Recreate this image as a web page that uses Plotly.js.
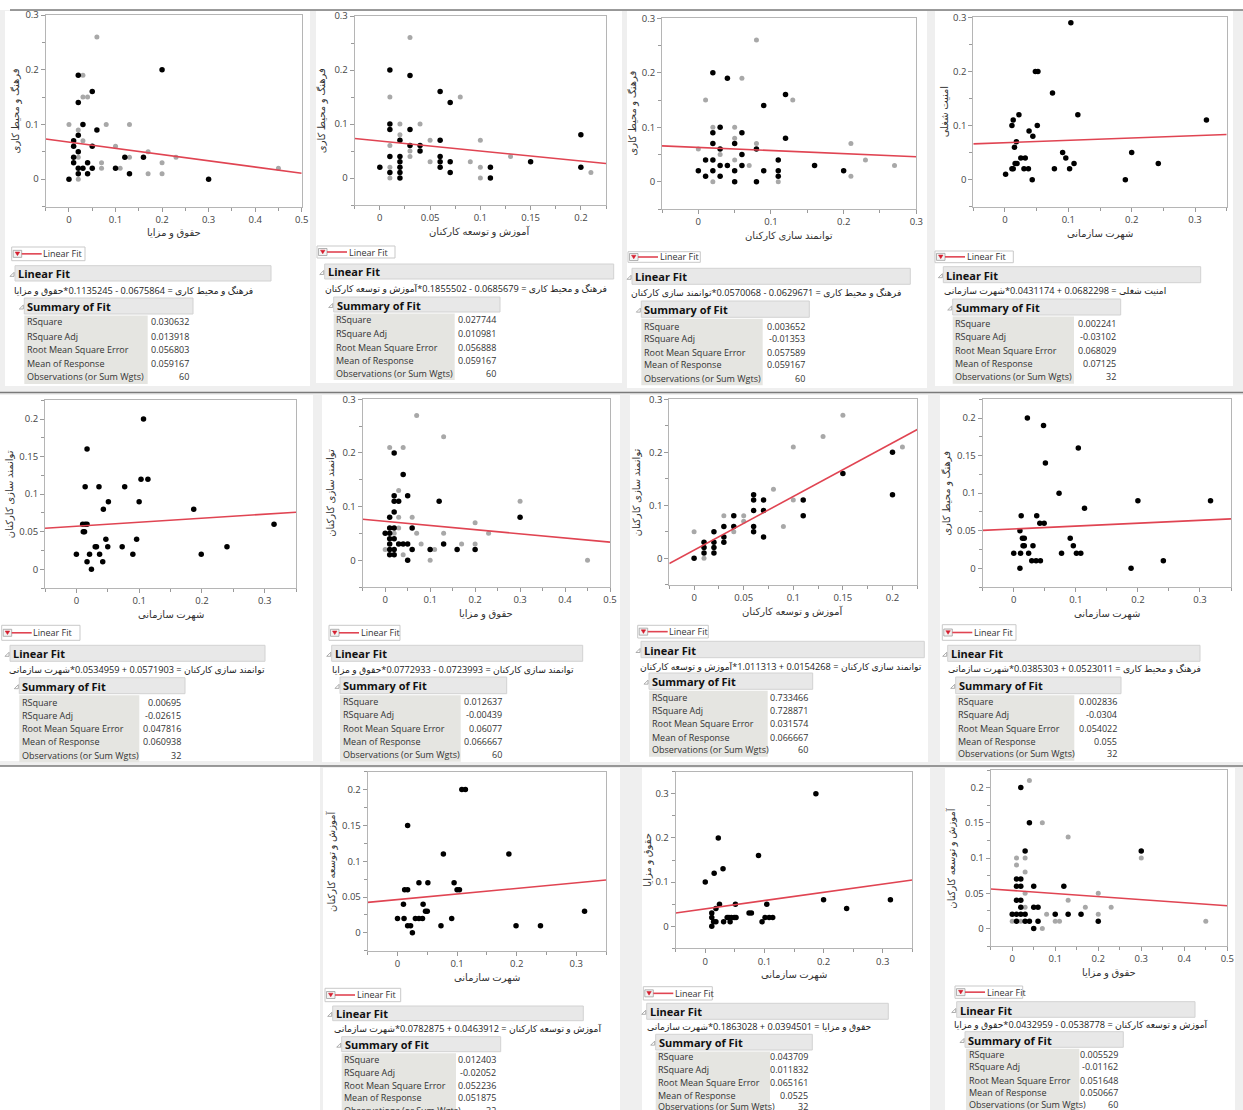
<!DOCTYPE html>
<html>
<head>
<meta charset="utf-8">
<script src="https://cdn.plot.ly/plotly-3.0.1.min.js"></script>
<style>html,body{margin:0;padding:0;background:#fff;}#chart{width:1243px;height:1110px;}</style>
</head>
<body>
<div id="chart"></div>
<script>
// ---------------- DATA ----------------
const yNames = ['فرهنگ و محیط کاری','فرهنگ و محیط کاری','فرهنگ و محیط کاری','امنیت شغلی','توانمند سازی کارکنان','توانمند سازی کارکنان','توانمند سازی کارکنان','فرهنگ و محیط کاری','آموزش و توسعه کارکنان','حقوق و مزایا','آموزش و توسعه کارکنان'];
const xNames = ['حقوق و مزایا','آموزش و توسعه کارکنان','توانمند سازی کارکنان','شهرت سازمانی','شهرت سازمانی','حقوق و مزایا','آموزش و توسعه کارکنان','شهرت سازمانی','شهرت سازمانی','شهرت سازمانی','حقوق و مزایا'];
const intercepts = [0.0675864,0.0685679,0.0629671,0.0682298,0.0571903,0.0723993,0.0154268,0.0523011,0.0463912,0.0394501,0.0538778];
const slopes = [-0.1135245,-0.1855502,-0.0570068,0.0431174,0.0534959,-0.0772933,1.011313,0.0385303,0.0782875,0.1863028,-0.0432959];
const statLabels = ['RSquare','RSquare Adj','Root Mean Square Error','Mean of Response','Observations (or Sum Wgts)'];
const rSquare = ['0.030632','0.027744','0.003652','0.002241','0.00695','0.012637','0.733466','0.002836','0.012403','0.043709','0.005529'];
const rSquareAdj = ['0.013918','0.010981','-0.01353','-0.03102','-0.02615','-0.00439','0.728871','-0.0304','-0.02052','0.011832','-0.01162'];
const rmse = ['0.056803','0.056888','0.057589','0.068029','0.047816','0.06077','0.031574','0.054022','0.052236','0.065161','0.051648'];
const meanResp = ['0.059167','0.059167','0.059167','0.07125','0.060938','0.066667','0.066667','0.055','0.051875','0.0525','0.050667'];
const nObs = ['60','60','60','32','32','60','60','32','32','32','60'];

const p1Black = [[0.02,0.19],[0.2,0.2],[0.05,0.16],[0.02,0.14],[0.03,0.1],[0.06,0.09],[0.02,0.08],[0.01,0.07],[0.01,0.06],[0.05,0.06],[0.02,0.05],[0.01,0.04],[0.12,0.04],[0.16,0.04],[0.01,0.03],[0.04,0.03],[0.02,0.02],[0.03,0.02],[0.05,0.02],[0.1,0.02],[0.02,0.01],[0.04,0.01],[0.13,0.01],[0,0],[0.3,0]];
const p1Gray = [[0.06,0.26],[0.03,0.19],[0.03,0.15],[0.04,0.15],[0,0.1],[0.02,0.09],[0.08,0.1],[0.13,0.1],[0.03,0.07],[0.02,0.04],[0.1,0.06],[0.17,0.05],[0.23,0.04],[0.13,0.04],[0.07,0.03],[0.07,0.02],[0.11,0.02],[0.2,0.03],[0.17,0.01],[0.2,0.01],[0.45,0.02],[0.02,0]];
const p2Black = [[0.01,0.2],[0.03,0.19],[0.06,0.16],[0.07,0.14],[0.01,0.1],[0.01,0.09],[0.03,0.09],[0.02,0.07],[0.06,0.07],[0.03,0.06],[0.04,0.06],[0.04,0.05],[0.01,0.04],[0.02,0.04],[0.06,0.04],[0.02,0.03],[0.06,0.03],[0.07,0.03],[0.15,0.03],[0,0.02],[0.02,0.02],[0.06,0.02],[0.11,0.02],[0.2,0.02],[0.01,0.01],[0.02,0.01],[0.07,0.01],[0.02,0],[0.11,0],[0.2,0.08]];
const p2Gray = [[0.03,0.26],[0.01,0.15],[0.08,0.15],[0.02,0.1],[0.04,0.1],[0.02,0.08],[0.01,0.06],[0.03,0.05],[0.03,0.04],[0.05,0.07],[0.1,0.07],[0.05,0.03],[0.09,0.03],[0.13,0.04],[0.1,0.02],[0.01,0.02],[0.01,0],[0.1,0],[0.21,0.01]];
const p3Black = [[0.02,0.2],[0.04,0.19],[0.12,0.16],[0.09,0.14],[0.03,0.1],[0.02,0.09],[0.06,0.09],[0.12,0.08],[0.02,0.07],[0.05,0.07],[0.03,0.06],[0.08,0.06],[0.06,0.05],[0.01,0.04],[0.02,0.04],[0.11,0.04],[0.03,0.03],[0.04,0.03],[0.06,0.03],[0.16,0.03],[0,0.02],[0.02,0.02],[0.05,0.02],[0.09,0.02],[0.11,0.02],[0.2,0.02],[0.01,0.01],[0.03,0.01],[0.11,0.01],[0.05,0],[0.08,0]];
const p3Gray = [[0.08,0.26],[0.06,0.19],[0.01,0.15],[0.13,0.15],[0.02,0.1],[0.05,0.1],[0.05,0.08],[0.08,0.07],[0.21,0.07],[0,0.06],[0.03,0.05],[0.05,0.04],[0.23,0.04],[0.07,0.03],[0.27,0.03],[0.21,0.01],[0.02,0],[0.11,0]];
const p4Black = [[0.104,0.29],[0.048,0.2],[0.052,0.2],[0.075,0.16],[0.022,0.12],[0.115,0.12],[0.013,0.11],[0.318,0.11],[0.011,0.1],[0.051,0.1],[0.038,0.09],[0.044,0.08],[0.018,0.07],[0.015,0.06],[0.091,0.05],[0.2,0.05],[0.025,0.04],[0.032,0.04],[0.096,0.04],[0.016,0.03],[0.019,0.03],[0.109,0.03],[0.242,0.03],[0.011,0.02],[0.013,0.02],[0.03,0.02],[0.037,0.02],[0.078,0.02],[0.102,0.02],[0.001,0.01],[0.043,0],[0.19,0]];
const p4Gray = [];
const p5Black = [[0.107,0.2],[0.017,0.16],[0.014,0.11],[0.036,0.11],[0.077,0.11],[0.103,0.12],[0.114,0.12],[0.051,0.09],[0.1,0.09],[0.043,0.08],[0.187,0.08],[0.01,0.06],[0.014,0.06],[0.017,0.06],[0.315,0.06],[0.011,0.05],[0.013,0.05],[0.047,0.04],[0.096,0.04],[0.03,0.03],[0.032,0.03],[0.05,0.03],[0.073,0.03],[0.24,0.03],[0,0.02],[0.021,0.02],[0.037,0.02],[0.09,0.02],[0.199,0.02],[0.017,0.01],[0.042,0.01],[0.024,0]];
const p5Gray = [];
const p6Black = [[0.02,0.2],[0.04,0.16],[0.02,0.12],[0.05,0.12],[0.02,0.11],[0.03,0.11],[0.12,0.11],[0.02,0.09],[0.01,0.08],[0.3,0.08],[0.01,0.06],[0.02,0.06],[0.06,0.06],[0,0.05],[0.01,0.05],[0.01,0.04],[0.02,0.04],[0.01,0.03],[0.03,0.03],[0.04,0.03],[0.05,0.03],[0.13,0.03],[0.01,0.02],[0.02,0.02],[0.06,0.02],[0.1,0.02],[0.16,0.02],[0.2,0.02],[0.01,0.01],[0.02,0.01],[0.05,0]];
const p6Gray = [[0.07,0.27],[0.13,0.23],[0.01,0.21],[0.04,0.21],[0.03,0.13],[0.3,0.11],[0.03,0.08],[0.06,0.08],[0.2,0.07],[0.03,0.06],[0.02,0.05],[0.07,0.05],[0.13,0.05],[0.23,0.05],[0.08,0.03],[0.17,0.03],[0.2,0.03],[0,0.02],[0.11,0.02],[0.04,0.01],[0.1,0],[0.45,0]];
const p7Black = [[0.2,0.2],[0.15,0.16],[0.2,0.12],[0.06,0.12],[0.06,0.11],[0.07,0.11],[0.11,0.11],[0.06,0.09],[0.07,0.09],[0.04,0.08],[0.11,0.08],[0.03,0.06],[0.04,0.06],[0.06,0.06],[0.02,0.05],[0.06,0.05],[0.03,0.04],[0.07,0.04],[0.01,0.03],[0.02,0.03],[0.03,0.03],[0.01,0.02],[0.02,0.02],[0.01,0.01],[0.02,0.01],[0,0]];
const p7Gray = [[0.15,0.27],[0.13,0.23],[0.1,0.21],[0.21,0.21],[0.08,0.13],[0.1,0.11],[0.03,0.08],[0.05,0.08],[0.05,0.07],[0.09,0.06],[0,0.05],[0.04,0.05],[0.01,0]];
const p8Black = [[0.022,0.2],[0.048,0.19],[0.104,0.16],[0.051,0.14],[0.073,0.1],[0.2,0.09],[0.317,0.09],[0.114,0.08],[0.012,0.07],[0.037,0.07],[0.042,0.06],[0.049,0.06],[0.01,0.05],[0.014,0.04],[0.017,0.04],[0.091,0.04],[0.015,0.03],[0.017,0.03],[0.031,0.03],[0.096,0.03],[0,0.02],[0.011,0.02],[0.024,0.02],[0.077,0.02],[0.101,0.02],[0.108,0.02],[0.029,0.01],[0.036,0.01],[0.043,0.01],[0.241,0.01],[0.01,0],[0.189,0]];
const p8Gray = [];
const p9Black = [[0.108,0.2],[0.114,0.2],[0.017,0.15],[0.077,0.11],[0.187,0.11],[0.036,0.07],[0.051,0.07],[0.095,0.07],[0.012,0.06],[0.017,0.06],[0.1,0.06],[0.104,0.06],[0.01,0.04],[0.043,0.04],[0.047,0.03],[0.05,0.03],[0.314,0.03],[0,0.02],[0.011,0.02],[0.03,0.02],[0.036,0.02],[0.042,0.02],[0.091,0.02],[0.017,0.01],[0.022,0.01],[0.073,0.01],[0.199,0.01],[0.24,0.01],[0.025,0]];
const p9Gray = [];
const p10Black = [[0.187,0.3],[0.022,0.2],[0.09,0.16],[0.03,0.13],[0.015,0.12],[0,0.1],[0.2,0.06],[0.313,0.06],[0.024,0.05],[0.051,0.05],[0.104,0.05],[0.239,0.04],[0.018,0.04],[0.011,0.03],[0.074,0.03],[0.078,0.03],[0.011,0.02],[0.037,0.02],[0.04,0.02],[0.044,0.02],[0.049,0.02],[0.052,0.02],[0.101,0.02],[0.108,0.02],[0.114,0.02],[0.014,0.01],[0.018,0.01],[0.031,0.01],[0.042,0.01],[0.096,0.01],[0.011,0]];
const p10Gray = [];
const p11Black = [[0.02,0.2],[0.04,0.15],[0.03,0.11],[0.3,0.11],[0.01,0.07],[0.02,0.07],[0.01,0.06],[0.02,0.06],[0.05,0.06],[0.12,0.06],[0.01,0.04],[0.02,0.04],[0.02,0.03],[0.05,0.03],[0.06,0.03],[0,0.02],[0.01,0.02],[0.02,0.02],[0.03,0.02],[0.1,0.02],[0.13,0.02],[0.16,0.02],[0.01,0.01],[0.03,0.01],[0.04,0.01],[0.06,0.01],[0.2,0.01],[0.05,0]];
const p11Gray = [[0.04,0.21],[0.07,0.15],[0.13,0.13],[0.01,0.1],[0.03,0.1],[0.3,0.1],[0.01,0.09],[0.03,0.08],[0.03,0.05],[0.2,0.05],[0.13,0.04],[0.03,0.03],[0.17,0.03],[0.23,0.03],[0.08,0.02],[0.2,0.02],[0,0.01],[0.02,0.01],[0.1,0.01],[0.11,0.01],[0.45,0.01],[0.07,0]];

const blackSets = [p1Black,p2Black,p3Black,p4Black,p5Black,p6Black,p7Black,p8Black,p9Black,p10Black,p11Black];
const graySets = [p1Gray,p2Gray,p3Gray,p4Gray,p5Gray,p6Gray,p7Gray,p8Gray,p9Gray,p10Gray,p11Gray];

// ---------------- LAYOUT (pixels) ----------------
const W = 1243, H = 1110;
const px = x => x / W;
const py = y => 1 - y / H;

const boxes = [
  {b:[45.7,15,301.7,206.5], xr:[-0.05,0.5], yr:[-0.05,0.3], xd:0.1, yd:0.1, yo:31},
  {b:[354.7,16,606,205], xr:[-0.025,0.225], yr:[-0.05,0.3], xd:0.05, yd:0.1, yo:33},
  {b:[662,18.3,916.3,209], xr:[-0.05,0.3], yr:[-0.05,0.3], xd:0.1, yd:0.1, yo:30},
  {b:[973.3,17.3,1226.7,206.7], xr:[-0.05,0.35], yr:[-0.05,0.3], xd:0.1, yd:0.1, yo:29},
  {b:[45,400.3,296,588], xr:[-0.05,0.35], yr:[-0.025,0.225], xd:0.1, yd:0.05, yo:36},
  {b:[362.7,399.3,610,587], xr:[-0.05,0.5], yr:[-0.05,0.3], xd:0.1, yd:0.1, yo:33},
  {b:[669.3,399.3,917.3,584.7], xr:[-0.025,0.225], yr:[-0.05,0.3], xd:0.05, yd:0.1, yo:33},
  {b:[982.7,399.3,1231,587], xr:[-0.05,0.35], yr:[-0.025,0.225], xd:0.1, yd:0.05, yo:37},
  {b:[367.7,771.7,606,950.7], xr:[-0.05,0.35], yr:[-0.025,0.225], xd:0.1, yd:0.05, yo:37},
  {b:[675.7,771.7,912.3,948.3], xr:[-0.05,0.35], yr:[-0.05,0.35], xd:0.1, yd:0.1, yo:29},
  {b:[990.7,770,1227.3,946], xr:[-0.05,0.5], yr:[-0.025,0.225], xd:0.1, yd:0.05, yo:40}
];
const reports = [
  {lg:[11.7,247,85,260.7], hd:[15,265.7,271,281], eq:[13,290], sm:[24.3,298,193,314], rows:[322,336,349,363,377], lc:[24.3,147.7], vr:190},
  {lg:[317,246,395,258], hd:[324.7,264,613.7,279], eq:[323.7,288], sm:[333.7,297,500,312], rows:[320,333,347,360,373], lc:[333.7,454.7], vr:497},
  {lg:[628,251.7,700.3,262.3], hd:[632,268.3,910.3,284.3], eq:[630.3,292.3], sm:[641.3,301,809.3,317.3], rows:[326,338.7,352,365,378.3], lc:[641.3,762.7], vr:806.3},
  {lg:[935,251,1013.3,262.7], hd:[943.3,266.7,1200.7,282.7], eq:[942.7,290.7], sm:[952.7,299,1120.7,315], rows:[323.3,336.7,350,363.3,376.7], lc:[952.7,1074], vr:1117.3},
  {lg:[1.7,625.3,80,640.3], hd:[10,645.3,265,661.3], eq:[8.3,669.3], sm:[19.3,677.7,185,693.7], rows:[702,715.3,728.7,742,755.3], lc:[19.3,139.3], vr:181.7},
  {lg:[329,625.3,400,640.3], hd:[331.7,645.3,582.7,661.3], eq:[331,669.3], sm:[340,677,506.7,693.7], rows:[701.3,714.7,728,741.3,754.7], lc:[340,460.7], vr:503.3},
  {lg:[637.7,625.3,708.3,638], hd:[641,641.3,924.3,657.7], eq:[639,666], sm:[649,673,812.7,689.3], rows:[697,710.3,723.7,737,749.7], lc:[649,767.7], vr:809.3},
  {lg:[942.3,624.7,1016,640.3], hd:[947.7,645.3,1200,661.3], eq:[946.7,668.7], sm:[955.7,677,1121,693.7], rows:[701.3,714.7,728,741.3,753.7], lc:[955.7,1074.3], vr:1117.7},
  {lg:[325,988.3,400.7,1001.7], hd:[332.7,1006,583.3,1020.7], eq:[332.7,1028.3], sm:[341.7,1036.7,500.7,1051.7], rows:[1059.3,1072.7,1085,1097.7,1110], lc:[341.7,456], vr:496.7},
  {lg:[643.3,986.7,712.3,1000], hd:[646.7,1003.3,888.3,1019.3], eq:[645.7,1026.7], sm:[655.7,1034.3,812.3,1050], rows:[1056.7,1069.3,1082.3,1095,1106.7], lc:[655.7,770], vr:809},
  {lg:[955,986,1022.7,998.3], hd:[956.7,1001.7,1195,1017.3], eq:[952.7,1024], sm:[965,1031.7,1123.3,1047.3], rows:[1054.3,1066.7,1080,1092.7,1104.3], lc:[966,1079.3], vr:1119.3}
];
const panelsWhite = [
  [5,11,310,386],[316,11,622,383],[627,11,927,388],[935,11,1233,386],
  [0,395,313,761],[322,395,620,762],[630,395,928,762],[940,395,1243,762],
  [323,768,620,1110],[642,768,930,1110],[945,768,1235,1110]
];

const FONT = 'Open Sans, DejaVu Sans, sans-serif';
const RED = '#e04452';
const shapes = [];
const annotations = [];

function rect(x0,y0,x1,y1,fill,line,lw,layer){
  shapes.push({type:'rect',xref:'paper',yref:'paper',x0:px(x0),x1:px(x1),y0:py(y1),y1:py(y0),
    fillcolor:fill,line:{color:line||'rgba(0,0,0,0)',width:lw||0},layer:layer||'below'});
}
function seg(x0,y0,x1,y1,color,w,layer){
  shapes.push({type:'line',xref:'paper',yref:'paper',x0:px(x0),x1:px(x1),y0:py(y0),y1:py(y1),
    line:{color:color,width:w},layer:layer||'above'});
}
function poly(pts,fill,line,lw){
  let d = pts.map((p,i)=>(i?'L':'M')+px(p[0]).toFixed(6)+','+py(p[1]).toFixed(6)).join(' ')+' Z';
  shapes.push({type:'path',xref:'paper',yref:'paper',path:d,fillcolor:fill,line:{color:line,width:lw},layer:'above'});
}
function txt(x,y,t,opt){
  opt = opt||{};
  annotations.push({xref:'paper',yref:'paper',x:px(x),y:py(y),text:t,showarrow:false,
    xanchor:opt.xa||'left',yanchor:opt.ya||'middle',textangle:opt.ang||0,borderpad:0,
    font:{family:FONT,size:opt.size||9,color:opt.color||'#333',weight:opt.weight||'normal'}});
}

rect(0,10,1243,392,'#efefef');
rect(0,392,1243,766,'#efefef');
rect(320,766,1243,1110,'#efefef');
panelsWhite.forEach(p=>rect(p[0],p[1],p[2],p[3],'#ffffff'));
seg(10,10,1243,10,'#7a7a7a',1.5,'below');
seg(0,392.5,1243,392.5,'#7a7a7a',1.5,'below');
seg(0,766,1243,766,'#7a7a7a',1.5,'below');

const traces = [];
const layout = {
  width:W, height:H, margin:{l:0,r:0,t:0,b:0}, paper_bgcolor:'#ffffff', plot_bgcolor:'#ffffff',
  showlegend:false, hovermode:false, font:{family:FONT}
};

boxes.forEach((bx,i)=>{
  const k = i+1;
  const xa = k===1?'x':'x'+k, ya = k===1?'y':'y'+k;
  const [l,t,r,b] = bx.b;
  const axCommon = {ticks:'outside',ticklen:4,tickcolor:'#9a9a9a',showline:true,mirror:true,linecolor:'#b5b5b5',linewidth:1,
    showgrid:false,zeroline:false,fixedrange:true,tick0:0,tickfont:{family:FONT,size:9.5,color:'#444'}};
  layout[k===1?'xaxis':'xaxis'+k] = Object.assign({},axCommon,{domain:[px(l),px(r)],range:bx.xr,dtick:bx.xd,anchor:ya,
    minor:{dtick:bx.xd/2,tick0:0,ticks:'outside',ticklen:3,tickcolor:'#9a9a9a',showgrid:false}});
  layout[k===1?'yaxis':'yaxis'+k] = Object.assign({},axCommon,{domain:[py(b),py(t)],range:bx.yr,dtick:bx.yd,anchor:xa,
    minor:{dtick:bx.yd/2,tick0:0,ticks:'outside',ticklen:3,tickcolor:'#9a9a9a',showgrid:false}});

  const g = graySets[i], bl = blackSets[i];
  if (g.length) traces.push({type:'scatter',mode:'markers',xaxis:xa,yaxis:ya,x:g.map(p=>p[0]),y:g.map(p=>p[1]),
    marker:{color:'#a8a8a8',size:5}});
  traces.push({type:'scatter',mode:'markers',xaxis:xa,yaxis:ya,x:bl.map(p=>p[0]),y:bl.map(p=>p[1]),
    marker:{color:'#000000',size:5.5}});
  const a = intercepts[i], s = slopes[i];
  traces.push({type:'scatter',mode:'lines',xaxis:xa,yaxis:ya,x:[bx.xr[0],bx.xr[1]],y:[a+s*bx.xr[0],a+s*bx.xr[1]],
    line:{color:RED,width:1.6}});

  txt((l+r)/2, b+26, xNames[i], {xa:'center',size:10,color:'#333'});
  txt(l-bx.yo, (t+b)/2, yNames[i], {xa:'center',ang:-90,size:10,color:'#333'});

  const rp = reports[i];
  rect(rp.lg[0],rp.lg[1],rp.lg[2],rp.lg[3],'#ffffff','#c9c9c9',1,'above');
  const cy = (rp.lg[1]+rp.lg[3])/2;
  rect(rp.lg[0]+1.5,cy-3.5,rp.lg[0]+10,cy+3.5,'#f3f3f3','#a0a0a0',0.8,'above');
  poly([[rp.lg[0]+3.5,cy-1.8],[rp.lg[0]+8,cy-1.8],[rp.lg[0]+5.75,cy+1.8]],'#d41f2f','#d41f2f',0.5);
  seg(rp.lg[0]+10,cy,rp.lg[0]+30,cy,RED,1.6,'above');
  txt(rp.lg[0]+30.5,cy,'Linear Fit',{size:9,color:'#333'});
  rect(rp.hd[0],rp.hd[1],rp.hd[2],rp.hd[3],'#e8e8e8','#d2d2d2',1,'above');
  const hy = (rp.hd[1]+rp.hd[3])/2;
  poly([[rp.hd[0]-5,hy+3],[rp.hd[0]-1,hy+3],[rp.hd[0]-1,hy-1]],'rgba(0,0,0,0)','#999',0.8);
  txt(rp.hd[0]+2,hy+0.5,'Linear Fit',{size:11,color:'#111',weight:'bold'});
  const sign = s<0 ? '-' : '+';
  const eqText = yNames[i]+' = '+String(a)+' '+sign+' '+String(Math.abs(s))+'*'+xNames[i];
  txt(rp.eq[0],rp.eq[1],eqText,{size:9.2,color:'#222'});
  const sy = (rp.sm[1]+rp.sm[3])/2;
  rect(rp.sm[0],rp.sm[1],rp.sm[2],rp.sm[3],'#e8e8e8','#d2d2d2',1,'above');
  poly([[rp.sm[0]-5,sy+3],[rp.sm[0]-1,sy+3],[rp.sm[0]-1,sy-1]],'rgba(0,0,0,0)','#999',0.8);
  txt(rp.sm[0]+2,sy+0.5,'Summary of Fit',{size:11,color:'#111',weight:'bold'});
  rect(rp.lc[0],rp.sm[3]+1.5,rp.lc[1],Math.min(rp.rows[4]+7,1110),'#e5e5e1',null,0,'above');
  const vals = [rSquare[i],rSquareAdj[i],rmse[i],meanResp[i],nObs[i]];
  statLabels.forEach((lab,j)=>{
    txt(rp.lc[0]+1.5,rp.rows[j],lab,{size:9,color:'#333'});
    txt(rp.vr,rp.rows[j],vals[j],{size:9,color:'#333',xa:'right'});
  });
});

layout.shapes = shapes;
layout.annotations = annotations;
Plotly.newPlot('chart',traces,layout,{staticPlot:true,displayModeBar:false});
</script>
</body>
</html>
